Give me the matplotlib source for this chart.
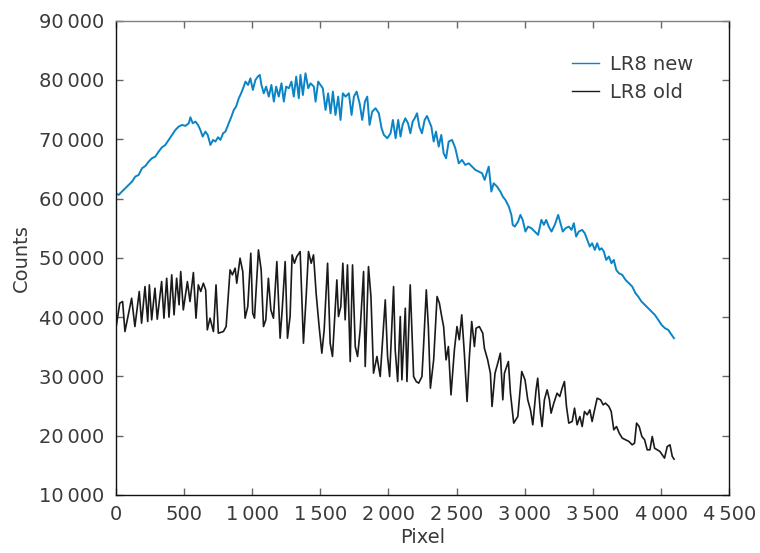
import matplotlib
matplotlib.use("Agg")
import matplotlib.pyplot as plt
from matplotlib.ticker import FuncFormatter

plt.rcParams['font.family'] = ['DejaVu Sans']

# ---- LR8 new (blue) ----
new_x = [0, 22, 46, 71, 95, 120, 144, 169, 193, 218, 242, 266, 291, 315, 340, 364, 389, 413, 438, 462,
         487, 511, 536, 548, 565, 585, 604, 621, 638, 658, 675, 695, 714, 731, 751, 768, 788, 805, 829, 849,
         866, 883, 903, 920, 939, 952, 971, 988, 1006, 1025, 1042, 1057, 1069, 1086, 1103, 1123, 1142, 1160,
         1177, 1196, 1216, 1233, 1250, 1270, 1289, 1306, 1324, 1343, 1355, 1373, 1392, 1412, 1429, 1453, 1466,
         1485, 1502, 1519, 1539, 1558, 1576, 1593, 1612, 1632, 1649, 1666, 1686, 1710, 1730, 1747, 1767, 1789,
         1808, 1828, 1845, 1862, 1881, 1906, 1930, 1950, 1967, 1992, 2016, 2033, 2053, 2072, 2089, 2104,
         2124, 2144, 2161, 2178, 2193, 2210, 2227, 2246, 2266, 2283, 2300, 2315, 2332, 2349, 2369, 2388, 2405,
         2423, 2442, 2467, 2491, 2516, 2540, 2564, 2589, 2613, 2638, 2662, 2687, 2706, 2724, 2736, 2755, 2772,
         2797, 2821, 2839, 2858, 2883, 2902, 2912, 2927, 2951, 2968, 2985, 3005, 3024, 3049, 3073, 3098, 3122,
         3140, 3157, 3176, 3196, 3220, 3245, 3262, 3279, 3299, 3323, 3343, 3360, 3377, 3396, 3421, 3440, 3458,
         3477, 3494, 3514, 3531, 3548, 3563, 3580, 3597, 3617, 3636, 3653, 3671, 3690, 3715, 3739, 3764, 3788,
         3812, 3832, 3856, 3881, 3905, 3930, 3954, 3979, 4003, 4028, 4052, 4077, 4094]
new_y = [60890, 60610, 61180, 61740, 62300, 62860, 63700, 63990, 65110, 65500, 66230, 66800, 67080, 67920,
         68650, 69040, 69890, 70730, 71570, 72130, 72420, 72250, 72700, 73710, 72700, 72980, 72420, 71570,
         70450, 71290, 70730, 69040, 69890, 69610, 70340, 69890, 71010, 71290, 72700, 73820, 74940, 75510,
         76910, 77750, 78880, 79720, 79160, 80280, 78320, 80000, 80560, 80850, 79160, 77750, 78880, 77190,
         79160, 76350, 78880, 77190, 79440, 76350, 78880, 78600, 79720, 77190, 80560, 76910, 80850, 77470,
         81130, 78600, 79440, 78880, 76350, 79720, 79160, 78600, 74940, 77750, 74380, 78040, 74100, 77190,
         73260, 77750, 77190, 77750, 74100, 77190, 78040, 76070, 73260, 76350, 77190, 72420, 74660, 75230,
         74380, 71850, 70730, 70170, 71010, 73260, 70170, 73260, 70450, 72420,
         73540, 72700, 71010, 72980, 73540, 74380, 72130, 71010, 73260, 73930, 72980, 72130, 69610, 71290,
         68760, 70730, 67640, 66800, 69610, 69890, 68480, 65950, 66510, 65670, 65950, 65390, 64830, 64550,
         64270, 63140, 64550, 65390, 61180, 62580, 62020, 61180, 60330, 59770, 58650, 57240, 55560, 55270,
         56120, 57240, 56400, 54430, 55270, 54990, 54430, 53870, 56400, 55560, 56400, 55270, 54430, 55560,
         57240, 55840, 54430, 54990, 55270, 54710, 55840, 53590, 54430, 54710, 54150, 53030, 51900, 52460,
         51340, 52460, 51340, 51620, 51060, 49650, 50220, 49090, 49650, 47970, 47410, 47130, 46280, 45720,
         45160, 44030, 43470, 42630, 42070, 41510, 40940, 40380, 39540, 38700, 38130, 37850, 37000, 36450]

# ---- LR8 old (black) ----
old_x = [0, 30, 51, 68, 117, 141, 173, 190, 215, 235, 247, 264, 288, 305, 337, 354, 374, 391, 411, 428,
         447, 465, 477, 496, 526, 545, 570, 589, 606, 624, 643, 660, 672, 692, 717, 736, 753, 790, 810, 839,
         856, 876, 888, 912, 932, 949, 969, 991, 1005, 1018, 1047, 1067, 1084, 1101, 1120, 1138, 1157, 1182,
         1206, 1221, 1243, 1260, 1279, 1294, 1311, 1328, 1353, 1377, 1397, 1414, 1434, 1451, 1470, 1492, 1512,
         1529, 1554, 1573, 1590, 1622, 1634, 1651, 1666, 1683, 1700, 1720, 1737, 1757, 1774, 1793, 1818, 1830,
         1854, 1872, 1891, 1916, 1940, 1977, 1994, 2009, 2038, 2050, 2068, 2087, 2099, 2124, 2136, 2160, 2185,
         2204, 2222, 2246, 2259, 2278, 2293, 2308, 2332, 2357, 2374, 2391, 2405, 2423, 2440, 2459, 2484, 2503,
         2520, 2538, 2557, 2577, 2594, 2611, 2631, 2643, 2667, 2692, 2704, 2728, 2748, 2760, 2782, 2802, 2821,
         2839, 2851, 2880, 2895, 2919, 2949, 2978, 3002, 3022, 3042, 3059, 3083, 3095, 3115, 3127, 3144, 3164,
         3181, 3193, 3213, 3237, 3257, 3274, 3291, 3306, 3323, 3348, 3365, 3384, 3404, 3421, 3438, 3458, 3477,
         3494, 3512, 3531, 3556, 3575, 3592, 3617, 3634, 3653, 3673, 3693, 3715, 3739, 3764, 3788, 3805, 3820,
         3839, 3859, 3879, 3898, 3918, 3935, 3952, 3972, 3991, 4008, 4025, 4045, 4065, 4082, 4095]
old_y = [37850, 42350, 42630, 37570, 43190, 38410, 44320, 38980, 45160, 39260, 45440, 39540, 44880, 39650,
         46000, 39820, 46560, 39990, 47130, 40380, 46560, 42070, 47690, 41220, 46000, 42630, 47520, 39820,
         45440, 44320, 45720, 44600, 37850, 39820, 37570, 45440, 37290, 37570, 38410, 47970, 47130, 48250,
         45720, 49940, 47690, 39820, 41790, 50780, 40660, 39820, 51340, 47970, 38410, 39540, 46560, 41220,
         39820, 49370, 36450, 41220, 49370, 36450, 40100, 50500, 49090, 50220, 51060, 35600, 43470, 51060,
         49090, 50500, 44030, 38410, 33920, 37850, 49090, 35600, 33360, 46280, 40100, 41790, 49090, 39540,
         48810, 32510, 48810, 35040, 33360, 37850, 47690, 31670, 48530, 43470, 30550, 33360, 29980, 42910,
         33360, 29980, 45160, 34480, 29140, 40100, 29420, 41510, 29140, 45440, 29980, 29140, 28860, 29980,
         35600, 44600, 38410, 28020, 32790, 43470, 42350, 40100, 38410, 32790, 35040, 26890, 34480, 38410,
         36170, 40380, 33920, 25770, 33360, 39260, 35040, 38130, 38410, 37290, 34760, 32790, 30550, 24930,
         30550, 32230, 33920, 26050, 30550, 32510, 27170, 22120, 23240, 30830, 29420, 26050, 24360, 21840,
         27740, 29700, 23800, 21550, 26050, 27740, 26050, 23800, 25490, 27170, 26610, 28020, 29140, 24930,
         22120, 22400, 24650, 21840, 23240, 21550, 24080, 23520, 24360, 22400, 24360, 26330, 26050, 25210,
         25490, 24930, 24080, 21000, 21550, 20430, 19590, 19310, 19030, 18460, 18740, 22120, 21550, 19870,
         19310, 17620, 17620, 19870, 17900, 17620, 17340, 16780, 16220, 18180, 18460, 16500, 16050]

x_ticks = [0, 500, 1000, 1500, 2000, 2500, 3000, 3500, 4000, 4500]
y_ticks = [10000, 20000, 30000, 40000, 50000, 60000, 70000, 80000, 90000]

fig = plt.figure(figsize=(7.6, 5.53), dpi=100)
ax = fig.add_axes([0.1522, 0.1049, 0.8074, 0.8577])

ax.plot(new_x, new_y, color='#0a84c6', lw=1.4, label='LR8 new')
ax.plot(old_x, old_y, color='#1a1a1a', lw=1.2, label='LR8 old')

ax.set_xlim(0, 4500)
ax.set_ylim(10000, 90000)
ax.set_xticks(x_ticks)
ax.set_yticks(y_ticks)

def fmt(v, pos):
    s = f"{int(v):d}"
    if len(s) > 3:
        s = s[:-3] + "\u2009" + s[-3:]
    return s

ax.xaxis.set_major_formatter(FuncFormatter(fmt))
ax.yaxis.set_major_formatter(FuncFormatter(fmt))

ax.tick_params(direction='in', length=5, width=1, color='#666666', labelsize=14,
               labelcolor='#3a3a3a', top=True, right=True)
ax.tick_params(axis='y', pad=8)
ax.tick_params(axis='x', pad=7)

for side in ['left', 'bottom', 'right']:
    ax.spines[side].set_color('#111111')
    ax.spines[side].set_linewidth(1.0)
ax.spines['top'].set_color('#808080')
ax.spines['top'].set_linewidth(1.0)

ax.set_xlabel('Pixel', fontsize=14, color='#3a3a3a', labelpad=3)
ax.set_ylabel('Counts', fontsize=14, color='#3a3a3a', labelpad=6)

leg = ax.legend(loc='upper right', frameon=False, fontsize=14, handlelength=1.4,
                handletextpad=0.55, labelspacing=0.45, bbox_to_anchor=(0.97, 0.965))
for line in leg.get_lines():
    line.set_linewidth(1.0)
for t in leg.get_texts():
    t.set_color('#3a3a3a')

fig.savefig('out.png', dpi=100)
